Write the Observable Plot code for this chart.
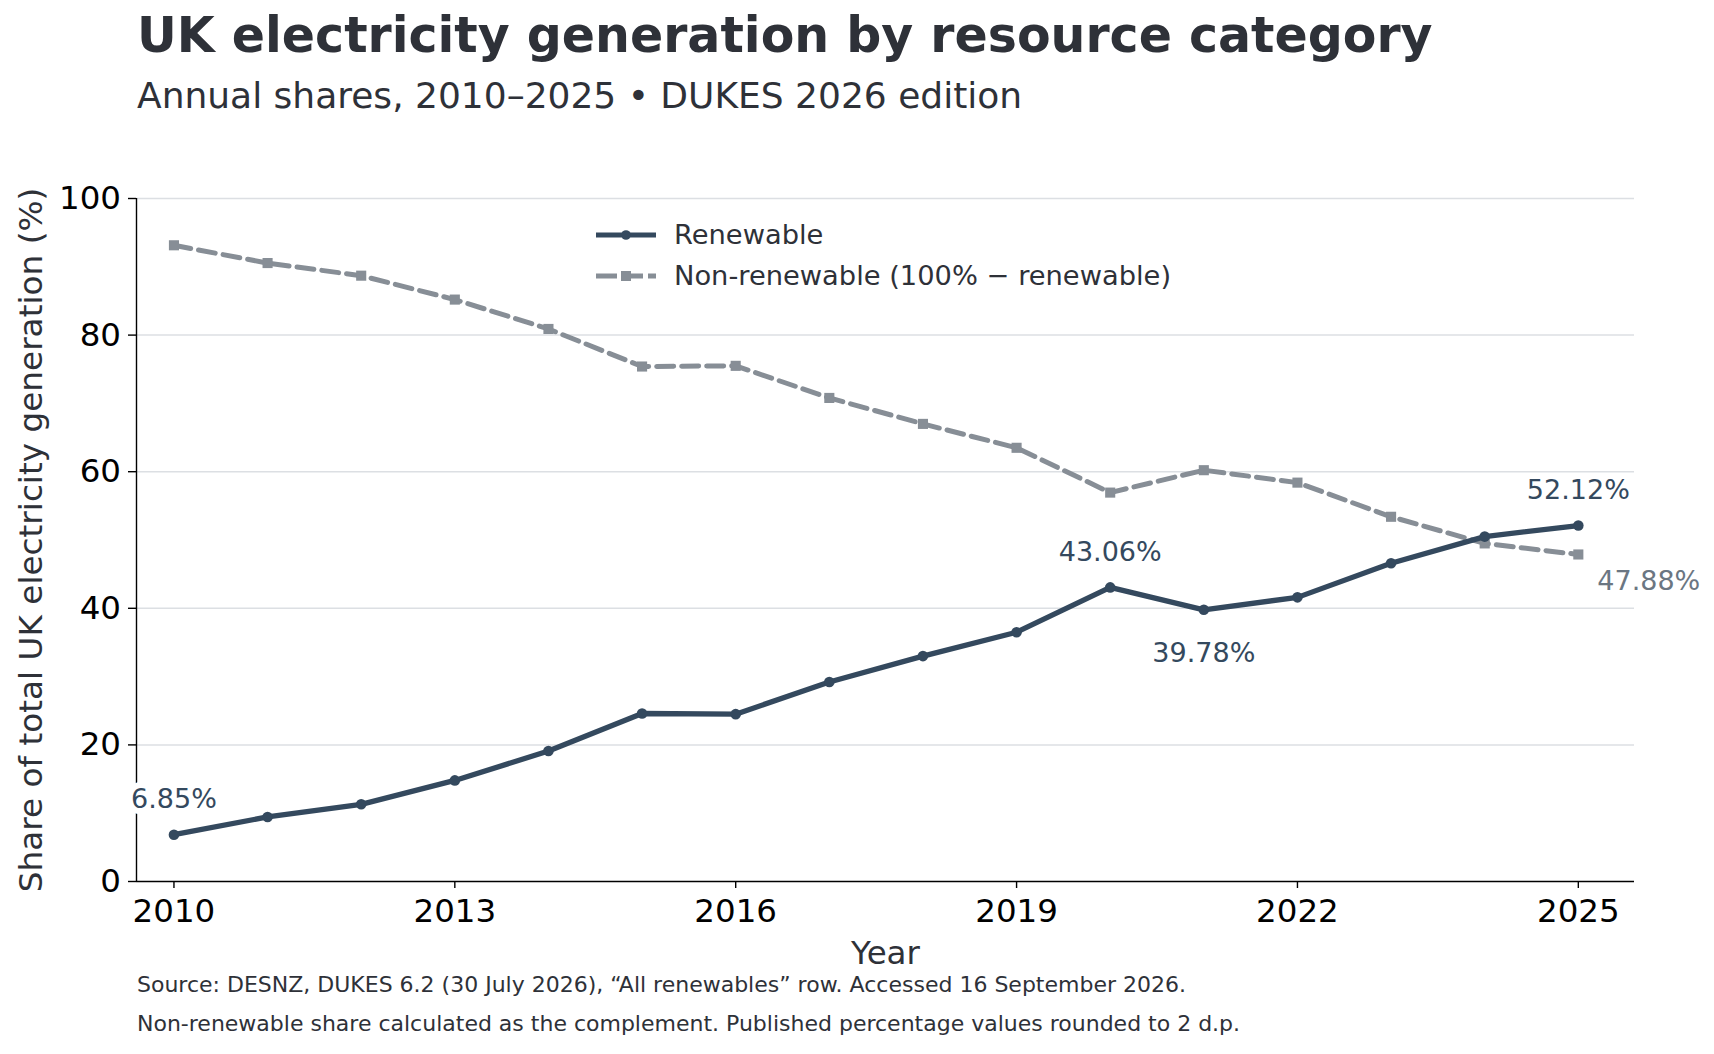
<!DOCTYPE html>
<html>
<head>
<meta charset="utf-8">
<script src="https://cdn.jsdelivr.net/npm/d3@7"></script>
<script src="https://cdn.jsdelivr.net/npm/@observablehq/plot@0.6"></script>
<style>
  html, body { margin: 0; padding: 0; background: #fff; }
  #wrap { position: relative; width: 1714px; height: 1054px; font-family: "DejaVu Sans", sans-serif; overflow: hidden; }
  #title { position: absolute; left: 137px; top: 11px; font-size: 49px; line-height: 1; font-weight: bold; color: #2e3138; white-space: nowrap; }
  #subtitle { position: absolute; left: 137px; top: 78px; font-size: 36px; line-height: 1; color: #2e3138; white-space: nowrap; }
  #chart { position: absolute; left: 0; top: 140px; }
  .cap { position: absolute; left: 137px; font-size: 22px; line-height: 1; color: #2e3138; white-space: nowrap; }
  #legend { position: absolute; left: 596px; top: 214px; font-size: 27.3px; color: #2e3138; }
  .lg { display: flex; align-items: center; height: 41px; }
  .lg svg { margin-right: 18px; }
</style>
</head>
<body>
<div id="wrap">
  <div id="title">UK electricity generation by resource category</div>
  <div id="subtitle">Annual shares, 2010–2025 • DUKES 2026 edition</div>
  <div id="chart"></div>
  <div id="legend"></div>
  <div class="cap" id="cap1" style="top:974px"></div>
  <div class="cap" id="cap2" style="top:1013px"></div>
</div>
<script>
// ---- data ----
const years = [2010, 2011, 2012, 2013, 2014, 2015, 2016, 2017, 2018, 2019, 2020, 2021, 2022, 2023, 2024, 2025];
const renewable = [6.85, 9.45, 11.3, 14.8, 19.1, 24.6, 24.5, 29.2, 33.0, 36.5, 43.06, 39.78, 41.6, 46.6, 50.5, 52.12];
const nonRenewable = [93.15, 90.55, 88.7, 85.2, 80.9, 75.4, 75.5, 70.8, 67.0, 63.5, 56.94, 60.22, 58.4, 53.4, 49.5, 47.88];
const seriesNames = ["Renewable", "Non-renewable (100% − renewable)"];
const xTicks = [2010, 2013, 2016, 2019, 2022, 2025];
const yTicks = [0, 20, 40, 60, 80, 100];
const xDomain = [2009.6, 2025.6];
const yDomain = [0, 100];
const labelsAbove = [{year: 2010, value: 6.85, label: "6.85%"}, {year: 2020, value: 43.06, label: "43.06%"}, {year: 2025, value: 52.12, label: "52.12%"}];
const labelsBelow = [{year: 2021, value: 39.78, label: "39.78%"}];
const labelsNonRen = [{year: 2025, value: 47.88, label: "47.88%"}];
const yLabel = "Share of total UK electricity generation (%)";
const xLabel = "Year";
const captions = [
  "Source: DESNZ, DUKES 6.2 (30 July 2026), “All renewables” row. Accessed 16 September 2026.",
  "Non-renewable share calculated as the complement. Published percentage values rounded to 2 d.p."
];

const renColor = "#34495e";
const nonColor = "#878e96";

const renData = years.map((y, i) => ({year: y, value: renewable[i]}));
const nonData = years.map((y, i) => ({year: y, value: nonRenewable[i]}));

const halo = {stroke: "white", strokeWidth: 12, paintOrder: "stroke", strokeLinejoin: "miter"};

const chart = Plot.plot({
  width: 1714,
  height: 840,
  marginLeft: 136,
  marginRight: 80,
  marginTop: 58,
  marginBottom: 99,
  style: {fontFamily: "DejaVu Sans, sans-serif", background: "transparent", overflow: "visible"},
  x: {domain: xDomain, ticks: xTicks},
  y: {domain: yDomain, ticks: yTicks},
  marks: [
    Plot.gridY(yTicks.filter(t => t > 0), {stroke: "#dcdfe3", strokeOpacity: 1, strokeWidth: 1.5}),
    Plot.axisX({ticks: xTicks, tickFormat: d => String(d), tickSize: 7, tickPadding: 10, fontSize: 32.5, color: "#000", label: null, strokeWidth: 1.4}),
    Plot.axisY({ticks: yTicks, tickSize: 8, tickPadding: 7.5, fontSize: 32.5, color: "#000", label: null, strokeWidth: 1.4}),
    Plot.ruleY([yDomain[0]], {stroke: "#000", strokeWidth: 1.6}),
    Plot.ruleX([xDomain[0]], {stroke: "#000", strokeWidth: 1.4}),
    Plot.line(nonData, {x: "year", y: "value", stroke: nonColor, strokeWidth: 5, strokeDasharray: "17,8"}),
    Plot.dot(nonData, {x: "year", y: "value", symbol: "square", r: 5.7, fill: nonColor, stroke: "none"}),
    Plot.line(renData, {x: "year", y: "value", stroke: renColor, strokeWidth: 5.3}),
    Plot.dot(renData, {x: "year", y: "value", r: 5.3, fill: renColor, stroke: "none"}),
    Plot.text(labelsAbove, {x: "year", y: "value", text: "label", dy: -35, fill: renColor, fontSize: 27, ...halo}),
    Plot.text(labelsBelow, {x: "year", y: "value", text: "label", dy: 44, fill: renColor, fontSize: 27, ...halo}),
    Plot.text(labelsNonRen, {x: "year", y: "value", text: "label", dx: 19, dy: 27, textAnchor: "start", fill: "#6b7682", fontSize: 27, ...halo}),
    Plot.text([xLabel], {frameAnchor: "bottom", dy: 82, lineAnchor: "bottom", fontSize: 32.5, fill: "#2e3138"}),
    Plot.text([yLabel], {frameAnchor: "left", textAnchor: "middle", dx: -105, rotate: -90, fontSize: 32.7, fill: "#2e3138"})
  ]
});
document.getElementById("chart").appendChild(chart);

// legend
const legend = document.getElementById("legend");
legend.innerHTML = `
  <div class="lg"><svg width="60" height="14"><line x1="0" y1="7" x2="60" y2="7" stroke="${renColor}" stroke-width="5"/><circle cx="30" cy="7" r="4.8" fill="${renColor}"/></svg><span>${seriesNames[0]}</span></div>
  <div class="lg"><svg width="60" height="14"><line x1="0" y1="7" x2="60" y2="7" stroke="${nonColor}" stroke-width="4.8" stroke-dasharray="21,5"/><rect x="25" y="2" width="10" height="10" fill="${nonColor}"/></svg><span>${seriesNames[1]}</span></div>`;

document.getElementById("cap1").textContent = captions[0];
document.getElementById("cap2").textContent = captions[1];
</script>
</body>
</html>
